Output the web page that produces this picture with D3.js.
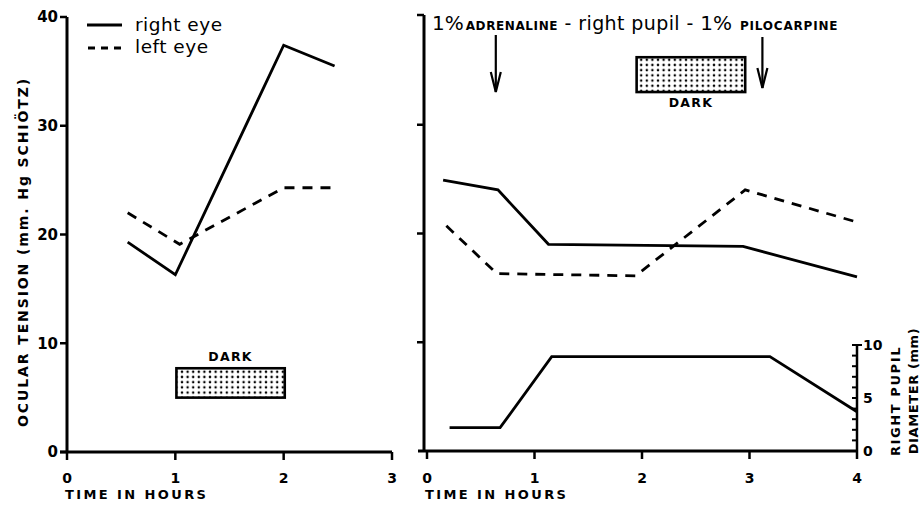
<!DOCTYPE html>
<html><head><meta charset="utf-8">
<script src="https://cdn.jsdelivr.net/npm/d3@7"></script>
<style>body{margin:0;background:#fff}svg{display:block}text{font-family:"DejaVu Sans",sans-serif;fill:#000}</style>
</head><body><svg id="c" width="921" height="505"></svg>
<script>
// ---- data ----
const leftTime   = [0.56, 1.0, 2.0, 2.47];
const leftRight  = [19.3, 16.3, 37.4, 35.5];
const leftLeftT  = [0.56, 1.04, 2.0, 2.47];
const leftLeft   = [22.0, 19.1, 24.3, 24.3];
const leftDark   = {x0: 1.01, x1: 2.01, y0: 5.0, y1: 7.7};

const rightRTime = [0.15, 0.66, 1.13, 2.94, 4.0];
const rightRight = [25.0, 24.1, 19.1, 18.9, 16.1];
const rightLTime = [0.18, 0.65, 1.94, 2.96, 3.98];
const rightLeft  = [20.8, 16.4, 16.2, 24.1, 21.2];
const pupilTime  = [0.21, 0.68, 1.16, 3.19, 4.0];
const pupilDiam  = [2.2, 2.2, 8.9, 8.9, 3.7];
const rightDark  = {x0: 1.95, x1: 2.96, y0: 33.1, y1: 36.3};
const arrowTimes = [0.64, 3.12];

const tensionTicks = [0, 10, 20, 30, 40];
const leftHourTicks = [0, 1, 2, 3];
const rightHourTicks = [0, 1, 2, 3, 4];
const pupilTicks = [0,1,2,3,4,5,6,7,8,9,10];
const pupilLabels = [0, 5, 10];

// ---- scales ----
const svg = d3.select("#c");
const y = d3.scaleLinear().domain([0, 40]).range([452, 17]);
const xL = d3.scaleLinear().domain([0, 3]).range([67, 392]);
const xR = d3.scaleLinear().domain([0, 4]).range([427, 857]);
const yP = d3.scaleLinear().domain([0, 10]).range([451, 345]);

// dot pattern
const defs = svg.append("defs");
const pat = defs.append("pattern").attr("id","dots").attr("patternUnits","userSpaceOnUse")
  .attr("width",5.6).attr("height",5.2);
pat.append("rect").attr("width",5.6).attr("height",5.2).attr("fill","#fff");
pat.append("circle").attr("cx",2.8).attr("cy",2.6).attr("r",1.25).attr("fill","#000");

const stroke = 2.8;
const line = (xs, ys, sx, sy) => d3.line().x((d,i)=>sx(xs[i])).y((d,i)=>sy(ys[i]))(xs);

function drawPath(d, dashed){
  svg.append("path").attr("d", d).attr("fill","none").attr("stroke","#000")
    .attr("stroke-width", stroke).attr("stroke-linejoin","miter")
    .attr("stroke-dasharray", dashed ? "10,8" : null);
}

// ---- left panel axes ----
const gL = svg.append("g");
gL.append("line").attr("x1",xL(0)).attr("x2",xL(0)).attr("y1",y(40)).attr("y2",y(0)).attr("stroke","#000").attr("stroke-width",3);
gL.append("line").attr("x1",xL(0)-7).attr("x2",xL(3)).attr("y1",y(0)).attr("y2",y(0)).attr("stroke","#000").attr("stroke-width",3);
tensionTicks.forEach(t=>{
  gL.append("line").attr("x1",xL(0)-7).attr("x2",xL(0)).attr("y1",y(t)).attr("y2",y(t)).attr("stroke","#000").attr("stroke-width",2.5);
  gL.append("text").attr("x",xL(0)-9).attr("y",y(t)).attr("dy","0.36em").attr("text-anchor","end")
    .attr("font-size",15).attr("font-weight","bold").text(t);
});
leftHourTicks.forEach(t=>{
  gL.append("line").attr("x1",xL(t)).attr("x2",xL(t)).attr("y1",y(0)).attr("y2",y(0)+8).attr("stroke","#000").attr("stroke-width",2.5);
  gL.append("text").attr("x",xL(t)).attr("y",483).attr("text-anchor","middle")
    .attr("font-size",14).attr("font-weight","bold").text(t);
});
svg.append("text").attr("x",65).attr("y",499).attr("font-size",13).attr("font-weight","bold")
  .attr("letter-spacing",2.4).text("TIME  IN  HOURS");
svg.append("text").attr("transform","translate(28,252) rotate(-90)").attr("text-anchor","middle")
  .attr("font-size",14).attr("font-weight","bold").attr("letter-spacing",1.9)
  .text("OCULAR TENSION (mm. Hg SCHIÖTZ)");

// legend
svg.append("line").attr("x1",87).attr("x2",122).attr("y1",25).attr("y2",25).attr("stroke","#000").attr("stroke-width",stroke);
svg.append("line").attr("x1",88).attr("x2",124).attr("y1",48).attr("y2",48).attr("stroke","#000").attr("stroke-width",stroke).attr("stroke-dasharray","7,6");
svg.append("text").attr("x",135).attr("y",31).attr("font-size",18.5).attr("letter-spacing",0.5).text("right eye");
svg.append("text").attr("x",135).attr("y",53).attr("font-size",18.5).attr("letter-spacing",0.5).text("left eye");

// left lines
drawPath(line(leftTime, leftRight, xL, y), false);
drawPath(line(leftLeftT, leftLeft, xL, y), true);

// left dark box
svg.append("rect").attr("x",xL(leftDark.x0)).attr("y",y(leftDark.y1))
  .attr("width",xL(leftDark.x1)-xL(leftDark.x0)).attr("height",y(leftDark.y0)-y(leftDark.y1))
  .attr("fill","url(#dots)").attr("stroke","#000").attr("stroke-width",2.6);
svg.append("text").attr("x",(xL(leftDark.x0)+xL(leftDark.x1))/2).attr("y",361).attr("text-anchor","middle")
  .attr("font-size",12.5).attr("font-weight","bold").attr("letter-spacing",1.3).text("DARK");

// ---- right panel axes ----
const gR = svg.append("g");
const yAxX = 424;
gR.append("line").attr("x1",yAxX).attr("x2",yAxX).attr("y1",y(40)-2).attr("y2",y(0)).attr("stroke","#000").attr("stroke-width",3);
gR.append("line").attr("x1",yAxX-6).attr("x2",xR(4)).attr("y1",y(0)-1).attr("y2",y(0)-1).attr("stroke","#000").attr("stroke-width",3);
tensionTicks.slice(1).forEach(t=>{
  gR.append("line").attr("x1",yAxX-7).attr("x2",yAxX).attr("y1",y(t)-(t===40?2:1)).attr("y2",y(t)-(t===40?2:1)).attr("stroke","#000").attr("stroke-width",2.5);
});
rightHourTicks.forEach(t=>{
  gR.append("line").attr("x1",xR(t)).attr("x2",xR(t)).attr("y1",y(0)-1).attr("y2",y(0)+7).attr("stroke","#000").attr("stroke-width",2.5);
  gR.append("text").attr("x",xR(t)).attr("y",483).attr("text-anchor","middle")
    .attr("font-size",14).attr("font-weight","bold").text(t);
});
svg.append("text").attr("x",425).attr("y",499).attr("font-size",13).attr("font-weight","bold")
  .attr("letter-spacing",2.4).text("TIME  IN  HOURS");

// pupil axis
const pX = xR(4);
gR.append("line").attr("x1",pX).attr("x2",pX).attr("y1",yP(10)).attr("y2",yP(0)).attr("stroke","#000").attr("stroke-width",2.5);
pupilTicks.forEach(t=>{
  gR.append("line").attr("x1",pX-5).attr("x2",pX).attr("y1",yP(t)).attr("y2",yP(t)).attr("stroke","#000").attr("stroke-width",2);
});
gR.append("line").attr("x1",pX).attr("x2",pX+5).attr("y1",yP(10)).attr("y2",yP(10)).attr("stroke","#000").attr("stroke-width",2);
pupilLabels.forEach(t=>{
  gR.append("text").attr("x",pX+6).attr("y",yP(t)).attr("dy","0.36em")
    .attr("font-size",14).attr("font-weight","bold").text(t);
});
svg.append("text").attr("transform","translate(900,401) rotate(-90)").attr("text-anchor","middle")
  .attr("font-size",13).attr("font-weight","bold").attr("letter-spacing",1.6).text("RIGHT PUPIL");
svg.append("text").attr("transform","translate(918,391) rotate(-90)").attr("text-anchor","middle")
  .attr("font-size",13).attr("font-weight","bold").attr("letter-spacing",0.6).text("DIAMETER (mm)");

// right lines
drawPath(line(rightRTime, rightRight, xR, y), false);
drawPath(line(rightLTime, rightLeft, xR, y), true);
drawPath(line(pupilTime, pupilDiam, xR, yP), false);

// right dark box
svg.append("rect").attr("x",xR(rightDark.x0)).attr("y",y(rightDark.y1))
  .attr("width",xR(rightDark.x1)-xR(rightDark.x0)).attr("height",y(rightDark.y0)-y(rightDark.y1))
  .attr("fill","url(#dots)").attr("stroke","#000").attr("stroke-width",2.6);
svg.append("text").attr("x",(xR(rightDark.x0)+xR(rightDark.x1))/2).attr("y",107).attr("text-anchor","middle")
  .attr("font-size",12.5).attr("font-weight","bold").attr("letter-spacing",1.3).text("DARK");

// title
const tt = svg.append("text").attr("x",432).attr("y",30);
tt.append("tspan").attr("font-size",20).text("1%");
tt.append("tspan").attr("font-size",12).attr("font-weight","bold").attr("dx",2).attr("letter-spacing",0.6).text("ADRENALINE");
tt.append("tspan").attr("font-size",19).attr("letter-spacing",0.4).text(" - right pupil - ");
tt.append("tspan").attr("font-size",20).text("1%");
tt.append("tspan").attr("font-size",12).attr("font-weight","bold").attr("dx",8).attr("letter-spacing",0.8).text("PILOCARPINE");

// arrows
arrowTimes.forEach((t,i)=>{
  const ax = xR(t), top = i===0?35:37, bot = i===0?92:88;
  svg.append("line").attr("x1",ax).attr("x2",ax).attr("y1",top).attr("y2",bot).attr("stroke","#000").attr("stroke-width",2.2);
  svg.append("path").attr("d",`M${ax-5},${bot-20} L${ax},${bot} L${ax+5},${bot-20}`)
    .attr("fill","none").attr("stroke","#000").attr("stroke-width",2.2);
});
</script></body></html>
